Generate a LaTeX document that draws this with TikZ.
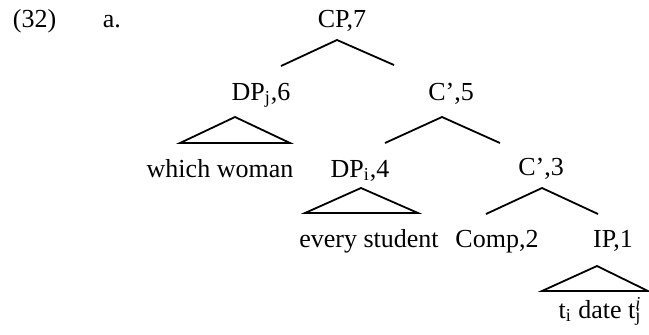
\documentclass[tikz,border=0pt]{standalone}
\usepackage{fontspec}
\setmainfont{Liberation Serif}

\begin{document}
\begin{tikzpicture}[x=0.5pt,y=-0.5pt,line width=0.9pt,
  lab/.style={inner sep=0pt,anchor=base,font=\fontsize{13}{15}\selectfont}]
\useasboundingbox (0,0) rectangle (649,334);
% labels
\node[lab,anchor=base west] (num) at (12,27) {(32)};
\node[lab,anchor=base west] (ex) at (102,27) {a.};
\node[lab] (cp) at (342,27) {CP,7};
\node[lab] (dpj) at (261,100) {DP\textsubscript{j},6};
\node[lab] (cbarfive) at (451,100) {C',5};
\node[lab] (which) at (220,177) {which woman};
\node[lab] (dpi) at (360,177) {DP\textsubscript{i},4};
\node[lab] (cbarthree) at (541,175) {C',3};
\node[lab] (every) at (369,247) {every student};
\node[lab] (comp) at (497,247) {Comp,2};
\node[lab] (ip) at (613,247) {IP,1};
\node[lab] (trace) at (600,318) {t\textsubscript{i} date t\rlap{\textsubscript{j}}\textsuperscript{\itshape i}};
% branch points
\coordinate (cp-top) at (337,40);
\coordinate (cp-l) at (281,66);
\coordinate (cp-r) at (394,65);
\coordinate (cfive-top) at (442,117);
\coordinate (cfive-l) at (385,143);
\coordinate (cfive-r) at (500,143);
\coordinate (cthree-top) at (542,188);
\coordinate (cthree-l) at (486,214);
\coordinate (cthree-r) at (598,214);
\coordinate (dpj-top) at (235,117);
\coordinate (dpj-l) at (180,143);
\coordinate (dpj-r) at (290,143);
\coordinate (dpi-top) at (361,188);
\coordinate (dpi-l) at (305,213);
\coordinate (dpi-r) at (418,213);
\coordinate (ip-top) at (597,266);
\coordinate (ip-l) at (542,291);
\coordinate (ip-r) at (648,291);
% branches
\draw (cp-l)--(cp-top)--(cp-r);
\draw (cfive-l)--(cfive-top)--(cfive-r);
\draw (cthree-l)--(cthree-top)--(cthree-r);
% triangles
\draw (dpj-top)--(dpj-l)--(dpj-r)--cycle;
\draw (dpi-top)--(dpi-l)--(dpi-r)--cycle;
\draw (ip-top)--(ip-l)--(ip-r)--cycle;
\end{tikzpicture}
\end{document}
